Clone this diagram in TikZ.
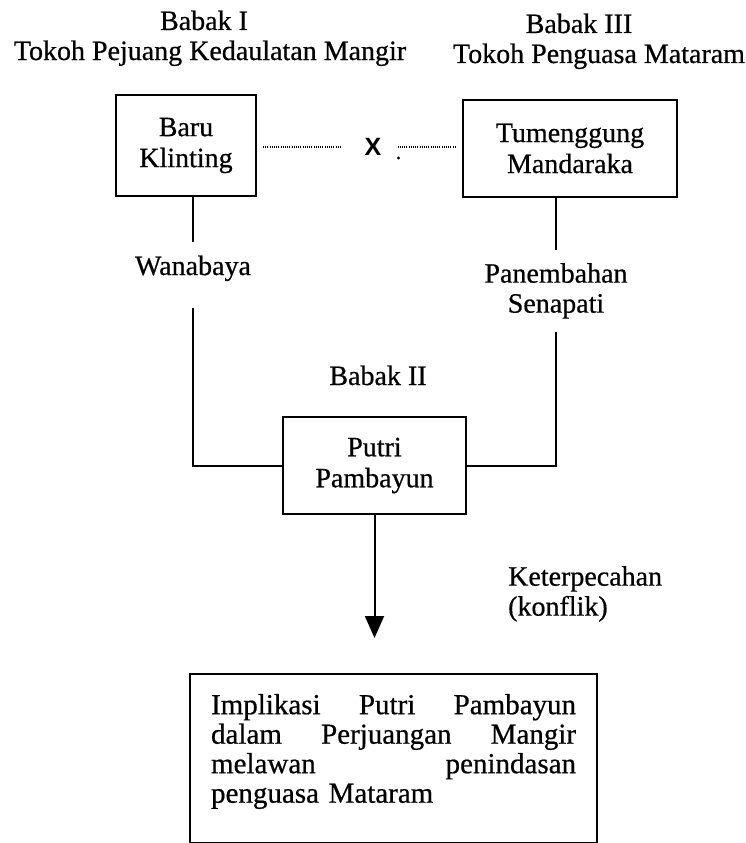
\documentclass[tikz,border=0pt]{standalone}
\usepackage{fontspec}
\setmainfont{Liberation Serif}[FakeBold=0.6]
\newfontfamily\crossfont{Liberation Sans}
\usetikzlibrary{arrows.meta}
\tikzset{
	box/.style={draw, line width=0.75mm, align=center, font=\fontsize{28}{31}\selectfont},
	lbl/.style={align=center, font=\fontsize{28}{30}\selectfont},
	link/.style={line width=0.7mm},
	dots/.style={line width=0.9mm, dash pattern=on 0.8pt off 1.4pt},
}

\begin{document}
\begin{tikzpicture}[x=1pt, y=-1pt]
			\useasboundingbox (0, 0) rectangle (745, 843);
			%%%%% START %%%%%
			
			\node[lbl, anchor=base] (babak1) at (204, 30) {Babak I};
			\node[lbl, anchor=base] (tokoh1) at (210, 60) {Tokoh Pejuang Kedaulatan Mangir};
			\node[lbl, anchor=base] (babak3) at (579, 33) {Babak III};
			\node[lbl, anchor=base] (tokoh3) at (599, 63) {Tokoh Penguasa Mataram};
			
			\node[box, minimum width=140pt, minimum height=101pt] (baru) at (186, 145.5) {Baru\\Klinting};
			\node[box, minimum width=214pt, minimum height=97pt] (tumeng) at (570, 148.5) {Tumenggung\\Mandaraka};
			
			\node[font={\crossfont\bfseries\fontsize{25}{25}\selectfont}, inner sep=0pt] (cross) at (373, 147) {X};
			\draw[dots, shorten <=6pt, shorten >=23pt] (baru.east |- cross) -- (cross);
			\draw[dots, shorten <=16pt, shorten >=5pt] (cross) -- (tumeng.west |- cross);
			\fill (cross.east) ++(17, 11) circle (1.6);
			
			\node[lbl, anchor=base, inner ysep=13pt, text depth=20pt] (wanabaya) at (193, 275) {Wanabaya};
			\node[lbl, anchor=north, inner ysep=13pt] (panembahan) at (556, 250) {Panembahan\\Senapati};
			
			\node[lbl, anchor=base] (babak2) at (378, 385) {Babak II};
			\node[box, minimum width=183pt, minimum height=97pt] (putri) at (374.5, 465.5) {Putri\\Pambayun};
			
			\draw[link] (baru.south -| wanabaya) -- (wanabaya.north);
			\draw[link] (wanabaya.south) |- (putri.west);
			\draw[link] (tumeng.south -| panembahan) -- (panembahan.north);
			\draw[link] (panembahan.south) |- (putri.east);
			
			\node[lbl, anchor=north west, align=left, inner sep=0pt] (konflik) at (508, 566) {Keterpecahan\\(konflik)};
			
			\node[box, anchor=north west, align=left, text width=365pt, inner xsep=21pt, inner ysep=20pt, font=\fontsize{29}{29.5}\selectfont] (implikasi) at (189, 673) {Implikasi\hfill Putri\hfill Pambayun\\dalam\hfill Perjuangan\hfill Mangir\\melawan\hfill penindasan\\penguasa Mataram\rule[-20pt]{0pt}{20pt}};
			
			\draw[link, -{Triangle[width=19pt, length=22pt]}, shorten >=35pt] (putri.south) -- (putri.south |- implikasi.north);
			
			%%%%% END %%%%%
\end{tikzpicture}
\end{document}
